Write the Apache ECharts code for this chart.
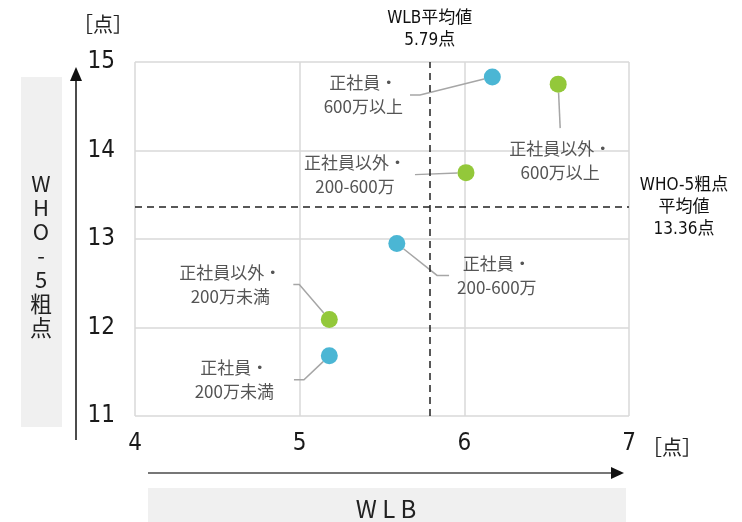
<!DOCTYPE html>
<html>
<head>
<meta charset="utf-8">
<script src="https://cdn.jsdelivr.net/npm/echarts@6/dist/echarts.min.js"></script>
<style>
  html, body { margin: 0; padding: 0; background: #fff; }
  #chart { width: 742px; height: 522px; }
</style>
</head>
<body>
<div id="chart"></div>
<script>
// Employment type x income band: WLB score vs WHO-5 raw score
const groups = ['正社員', '正社員以外'];
const incomeBands = ['200万未満', '200-600万', '600万以上'];
const wlbRegular = [5.18, 5.59, 6.17];
const who5Regular = [11.68, 12.95, 14.83];
const wlbNonRegular = [5.18, 6.01, 6.57];
const who5NonRegular = [12.09, 13.75, 14.75];
const wlbMean = 5.79;
const who5Mean = 13.36;
const xTicks = [4, 5, 6, 7];
const yTicks = [11, 12, 13, 14, 15];

const colors = ['#4bb6d4', '#93c83a'];

// where each callout sits relative to its point (text-block centre), plus its padding
const calloutRegular = [
  { dx: -95, dy: 24, pad: [4, 20], len: 10 },
  { dx: 100, dy: 32, pad: [4, 8], len: 12 },
  { dx: -129, dy: 18, pad: [4, 7], len: 10 }
];
const calloutNonRegular = [
  { dx: -99, dy: -35, pad: [4, 12], len: 6 },
  { dx: -111, dy: 2, pad: [4, 9], len: 0 },
  { dx: 2, dy: 76, pad: [8, 4], len: 0 }
];

const cjk = "'Noto Sans CJK JP', 'Noto Sans', sans-serif";
const narrow = "'Liberation Sans Narrow', 'DejaVu Sans Condensed', 'Noto Sans CJK JP', sans-serif";

function buildPoints(group, xs, ys, callouts) {
  return xs.map((x, i) => ({
    value: [x, ys[i]],
    name: group + '・\n' + incomeBands[i],
    label: { padding: callouts[i].pad },
    labelLine: { length2: callouts[i].len }
  }));
}

function makeSeries(gi, xs, ys, callouts) {
  return {
    type: 'scatter',
    name: groups[gi],
    symbolSize: 17,
    itemStyle: { color: colors[gi], opacity: 1 },
    data: buildPoints(groups[gi], xs, ys, callouts),
    label: {
      show: true,
      formatter: '{b}',
      color: '#555',
      fontFamily: cjk,
      fontSize: 17,
      lineHeight: 24,
      align: 'center'
    },
    labelLine: {
      show: true,
      lineStyle: { color: '#a6a6a6', width: 1.5 }
    },
    labelLayout: function (p) {
      const c = callouts[p.dataIndex];
      return {
        x: p.rect.x + p.rect.width / 2 + c.dx,
        y: p.rect.y + p.rect.height / 2 + c.dy,
        align: 'center',
        verticalAlign: 'middle'
      };
    },
    emphasis: { disabled: true },
    z: 3
  };
}

const chart = echarts.init(document.getElementById('chart'), null, { renderer: 'canvas' });

const series = [
  makeSeries(0, wlbRegular, who5Regular, calloutRegular),
  makeSeries(1, wlbNonRegular, who5NonRegular, calloutNonRegular)
];

series[0].markLine = {
  silent: true,
  symbol: ['none', 'none'],
  lineStyle: { type: [7, 5], color: '#222', width: 1.5 },
  label: {
    color: '#111',
    fontFamily: narrow,
    fontSize: 17,
    lineHeight: 22
  },
  data: [
    {
      xAxis: wlbMean,
      label: { position: 'end', distance: 10, formatter: 'WLB平均値\n' + wlbMean + '点', align: 'center' }
    },
    {
      yAxis: who5Mean,
      label: {
        position: 'end', distance: 55, align: 'center', verticalAlign: 'middle',
        formatter: 'WHO-5粗点\n平均値\n' + who5Mean + '点'
      }
    }
  ]
};

const gridLine = { show: true, lineStyle: { color: '#d9d9d9', width: 1.5 } };

chart.setOption({
  animation: false,
  backgroundColor: '#fff',
  grid: { left: 135, right: 113, top: 62, bottom: 106 },
  xAxis: {
    type: 'value',
    min: xTicks[0],
    max: xTicks[xTicks.length - 1],
    interval: 1,
    axisLine: { show: false },
    axisTick: { show: false },
    splitLine: gridLine,
    axisLabel: { color: '#1a1a1a', fontSize: 24, fontFamily: narrow, margin: 16 }
  },
  yAxis: {
    type: 'value',
    min: yTicks[0],
    max: yTicks[yTicks.length - 1],
    interval: 1,
    axisLine: { show: false },
    axisTick: { show: false },
    splitLine: gridLine,
    axisLabel: { color: '#1a1a1a', fontSize: 24, fontFamily: narrow, margin: 20 }
  },
  series: series,
  graphic: [
    // y-axis title panel
    { type: 'rect', shape: { x: 21, y: 77, width: 41, height: 350 }, style: { fill: '#f0f0f0' }, silent: true },
    {
      type: 'text', x: 41, y: 256,
      style: {
        text: 'W\nH\nO\n-\n5\n粗\n点', font: '22px ' + cjk, fill: '#222',
        align: 'center', verticalAlign: 'middle', lineHeight: 24
      }
    },
    // x-axis title panel
    { type: 'rect', shape: { x: 148, y: 488, width: 478, height: 40 }, style: { fill: '#f0f0f0' }, silent: true },
    {
      type: 'text', x: 386, y: 509,
      style: { text: 'W L B', font: '24px ' + cjk, fill: '#222', align: 'center', verticalAlign: 'middle' }
    },
    // axis direction arrows
    { type: 'line', shape: { x1: 76, y1: 440, x2: 76, y2: 78 }, style: { stroke: '#111', lineWidth: 1.5 } },
    { type: 'polygon', shape: { points: [[76, 67], [70, 81], [82, 81]] }, style: { fill: '#111' } },
    { type: 'line', shape: { x1: 148, y1: 473, x2: 614, y2: 473 }, style: { stroke: '#777', lineWidth: 2 } },
    { type: 'polygon', shape: { points: [[624, 473], [611, 467], [611, 479]] }, style: { fill: '#111' } },
    // unit captions
    {
      type: 'text', x: 103, y: 24,
      style: { text: '［点］', font: '20px ' + cjk, fill: '#222', align: 'center', verticalAlign: 'middle' }
    },
    {
      type: 'text', x: 672, y: 447,
      style: { text: '［点］', font: '20px ' + cjk, fill: '#222', align: 'center', verticalAlign: 'middle' }
    }
  ]
});
</script>
</body>
</html>
